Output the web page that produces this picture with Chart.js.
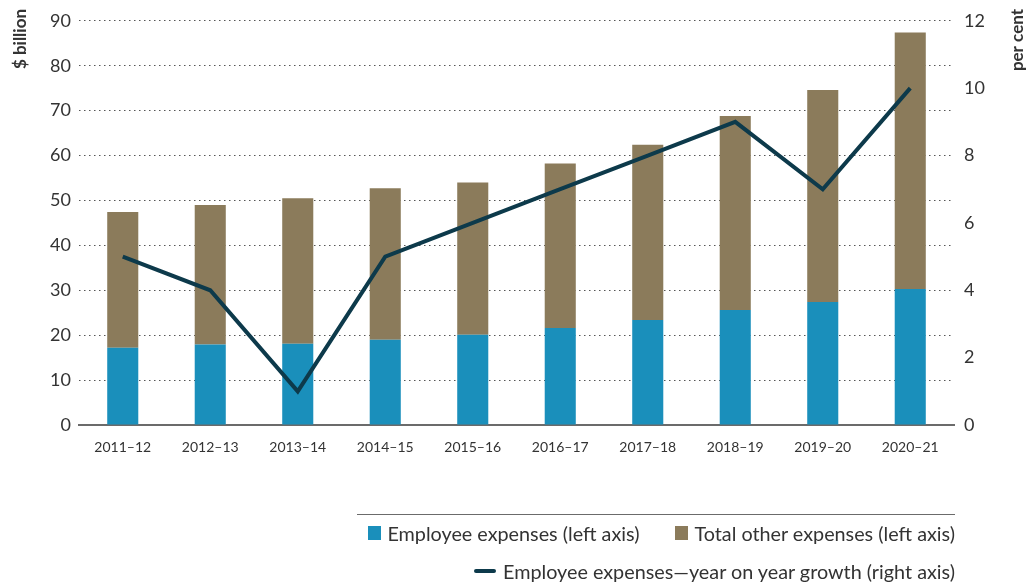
<!DOCTYPE html>
<html>
<head>
<meta charset="utf-8">
<script src="https://cdn.jsdelivr.net/npm/chart.js@4.4.1/dist/chart.umd.min.js"></script>
<style>
  html, body { margin: 0; padding: 0; background: #fff; }
  #wrap { position: relative; width: 1032px; height: 584px; font-family: Lato, "Open Sans", sans-serif; color: #333; }
  #legend { position: absolute; left: 357px; top: 514px; width: 598px; border-top: 1px solid #6b6b6b; font-size: 19.8px; }
  .row { display: flex; justify-content: flex-end; align-items: center; height: 36px; }
  .row + .row { height: 40px; }
  .item { display: flex; align-items: center; margin-left: 36px; white-space: nowrap; }
  .box { width: 13px; height: 14px; margin-right: 6px; }
  .dash { width: 22px; height: 4px; border-radius: 2px; margin-right: 7px; }
</style>
</head>
<body>
<div id="wrap">
  <canvas id="expensesChart" width="1032" height="584"></canvas>
  <div id="legend"></div>
</div>
<script>
// Années financières
const annees = ["2011–12", "2012–13", "2013–14", "2014–15", "2015–16", "2016–17", "2017–18", "2018–19", "2019–20", "2020–21"];
// Dépenses en $ milliards (axe de gauche)
const depensesEmployes = [17.2, 17.9, 18.1, 19.0, 20.1, 21.6, 23.4, 25.6, 27.4, 30.3];
const autresDepenses = [30.2, 31.1, 32.4, 33.7, 33.9, 36.6, 39.0, 43.2, 47.2, 57.1];
// Croissance annuelle en % (axe de droite)
const croissanceEmployes = [5, 4, 1, 5, 6, 7, 8, 9, 7, 10];

const couleurBleu = "#1a8fbb";
const couleurBrun = "#8b7b5b";
const couleurLigne = "#0d3a4b";

// Titres des axes dessinés en haut, tournés
const titresAxes = {
    id: "titresAxes",
    afterDraw(chart) {
        const ctx = chart.ctx;
        ctx.save();
        ctx.font = "bold 17px Lato, 'Open Sans', sans-serif";
        ctx.fillStyle = "#333";
        ctx.textAlign = "right";
        ctx.textBaseline = "middle";
        [["$ billion", 21], ["per cent", 1018]].forEach(([texte, x]) => {
            ctx.save();
            ctx.translate(x, 9);
            ctx.rotate(-Math.PI / 2);
            ctx.fillText(texte, 0, 0);
            ctx.restore();
        });
        ctx.restore();
    }
};

const ctx = document.getElementById("expensesChart").getContext("2d");
const graphique = new Chart(ctx, {
    type: "bar",
    data: {
        labels: annees,
        datasets: [
            {
                type: "line",
                label: "Employee expenses—year on year growth (right axis)",
                data: croissanceEmployes,
                yAxisID: "y1",
                borderColor: couleurLigne,
                backgroundColor: couleurLigne,
                borderWidth: 4,
                pointRadius: 0,
                tension: 0,
                borderJoinStyle: "miter",
                order: 0
            },
            {
                label: "Employee expenses (left axis)",
                data: depensesEmployes,
                backgroundColor: couleurBleu,
                stack: "depenses",
                order: 1
            },
            {
                label: "Total other expenses (left axis)",
                data: autresDepenses,
                backgroundColor: couleurBrun,
                stack: "depenses",
                order: 1
            }
        ]
    },
    options: {
        responsive: false,
        animation: false,
        maintainAspectRatio: false,
        layout: { padding: { top: 14, bottom: 0, left: 0, right: 0 } },
        datasets: { bar: { barPercentage: 0.355, categoryPercentage: 1 } },
        plugins: {
            legend: { display: false },
            tooltip: { enabled: false }
        },
        scales: {
            x: {
                stacked: true,
                grid: { display: false },
                border: { display: true, color: "#6b6b6b", width: 2 },
                ticks: { color: "#333", font: { size: 14, family: "Lato, 'Open Sans', sans-serif" }, padding: 6, maxRotation: 0 },
                afterFit(scale) { scale.height = 159; }
            },
            y: {
                stacked: true,
                position: "left",
                min: 0,
                max: 90,
                ticks: { stepSize: 10, color: "#333", font: { size: 18, family: "Lato, 'Open Sans', sans-serif" }, padding: 8 },
                grid: {
                    color: (c) => c.tick.value === 0 ? "rgba(0,0,0,0)" : "#555",
                    lineWidth: 1,
                    drawTicks: false
                },
                border: { display: false, dash: [1.5, 3.5] },
                afterFit(scale) { scale.width = 79; }
            },
            y1: {
                position: "right",
                min: 0,
                max: 12,
                ticks: { stepSize: 2, color: "#333", font: { size: 18, family: "Lato, 'Open Sans', sans-serif" }, padding: 10 },
                grid: { display: false, drawTicks: false },
                border: { display: false },
                afterFit(scale) { scale.width = 78; }
            }
        }
    },
    plugins: [titresAxes]
});

// Légende HTML construite depuis les jeux de données
function construireLegende() {
    const ds = graphique.data.datasets;
    const ligne1 = [ds[1], ds[2]].map(d =>
        `<div class="item"><span class="box" style="background:${d.backgroundColor}"></span>${d.label}</div>`).join("");
    const ligne2 = `<div class="item"><span class="dash" style="background:${ds[0].borderColor}"></span>${ds[0].label}</div>`;
    document.getElementById("legend").innerHTML =
        `<div class="row">${ligne1}</div><div class="row">${ligne2}</div>`;
}
construireLegende();
</script>
</body>
</html>
